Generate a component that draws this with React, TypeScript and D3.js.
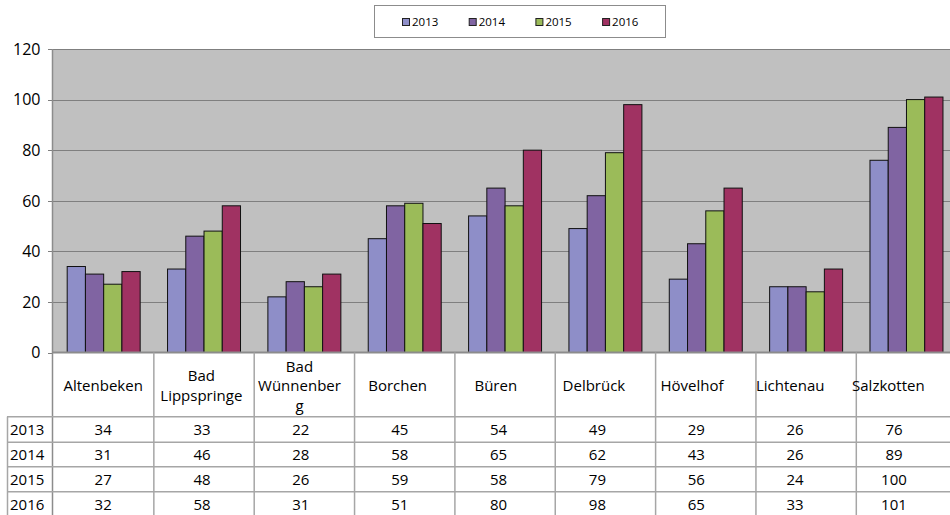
import React from "react";
import * as d3 from "d3";

const categories = ["Altenbeken", "Bad Lippspringe", "Bad Wünnenberg", "Borchen", "Büren", "Delbrück", "Hövelhof", "Lichtenau", "Salzkotten"];
const categoryLines = [["Altenbeken"], ["Bad", "Lippspringe"], ["Bad", "Wünnenber", "g"], ["Borchen"], ["Büren"], ["Delbrück"], ["Hövelhof"], ["Lichtenau"], ["Salzkotten"]];
const years = ["2013", "2014", "2015", "2016"];
const v2013 = [34, 33, 22, 45, 54, 49, 29, 26, 76];
const v2014 = [31, 46, 28, 58, 65, 62, 43, 26, 89];
const v2015 = [27, 48, 26, 59, 58, 79, 56, 24, 100];
const v2016 = [32, 58, 31, 51, 80, 98, 65, 33, 101];
const series = [v2013, v2014, v2015, v2016];
const colors = ["#8e8ec8", "#8064a2", "#9bbb59", "#a03262"];
const yTicks = [0, 20, 40, 60, 80, 100, 120];

const FONT = "'Open Sans', 'Noto Sans', sans-serif";

export default function App() {
  const left = 53;
  const plotRight = 53 + 9 * 100.35;
  const yTop = 49;
  const yBottom = 352.5;
  const x0 = d3.scaleBand<string>().domain(categories).range([left, plotRight]).paddingInner(0).paddingOuter(0);
  const x1 = d3.scaleBand<string>().domain(years).range([0, x0.bandwidth()]).paddingInner(0).paddingOuter(0.75);
  const y = d3.scaleLinear().domain([0, 120]).range([yBottom, yTop]);

  const headerTop = yBottom;
  const rowTops = [416.7, 442.3, 466.8, 491.7];
  const rowH = 25;
  const tableLeft = 7;
  const lineColor = "#a6a6a6";

  const legendX = 402;
  const legendStep = 66.7;

  return (
    <svg width={950} height={515} style={{ position: "absolute", left: 0, top: 0, background: "#fff" }} fontFamily={FONT}>
      {/* legend */}
      <rect x={374.5} y={5.5} width={291} height={32} fill="#fff" stroke="#8c8c8c" strokeWidth={1} />
      {years.map((yr, i) => (
        <g key={yr}>
          <rect x={legendX + i * legendStep + 0.5} y={18.5} width={7} height={7} fill={colors[i]} stroke="#222" strokeWidth={1} />
          <text x={legendX + i * legendStep + 10} y={26.3} fontSize={11.5} fill="#000">{yr}</text>
        </g>
      ))}

      {/* plot area */}
      <rect x={left} y={yTop} width={plotRight - left} height={yBottom - yTop} fill="#c0c0c0" />
      {yTicks.filter((t) => t > 0).map((t) => (
        <line key={t} x1={left} x2={plotRight} y1={Math.round(y(t)) + 0.5} y2={Math.round(y(t)) + 0.5} stroke="#7f7f7f" strokeWidth={1} />
      ))}
      {yTicks.map((t) => (
        <g key={"t" + t}>
          <line x1={48} x2={left} y1={Math.round(y(t)) + 0.5} y2={Math.round(y(t)) + 0.5} stroke="#7f7f7f" />
          <text x={40.5} y={y(t)} dy="0.36em" textAnchor="end" fontSize={16} fill="#000">{t}</text>
        </g>
      ))}

      {/* bars */}
      {categories.map((c, ci) => (
        <g key={c} transform={`translate(${x0(c)},0)`}>
          {years.map((yr, si) => {
            const val = series[si][ci];
            return (
              <rect key={yr} x={(x1(yr) as number) + 0.5} y={y(val)} width={x1.bandwidth()} height={yBottom - y(val)} fill={colors[si]} stroke="#111" strokeWidth={1} />
            );
          })}
        </g>
      ))}

      {/* axis lines */}
      <line x1={left - 0.5} x2={left - 0.5} y1={yTop} y2={515} stroke={"#8c8c8c"} strokeWidth={1.5} />
      <line x1={left} x2={plotRight} y1={yBottom} y2={yBottom} stroke="#8c8c8c" strokeWidth={2} />

      {/* table grid */}
      {categories.map((c, ci) => (
        <line key={"v" + c} x1={(x0(c) as number) + x0.bandwidth() + 0.5} x2={(x0(c) as number) + x0.bandwidth() + 0.5} y1={yBottom} y2={515} stroke={lineColor} strokeWidth={1.5} />
      ))}
      <line x1={tableLeft + 0.5} x2={tableLeft + 0.5} y1={rowTops[0]} y2={515} stroke={lineColor} strokeWidth={1.5} />
      {rowTops.map((r, i) => (
        <line key={"h" + i} x1={tableLeft} x2={950} y1={r} y2={r} stroke={lineColor} strokeWidth={1.5} />
      ))}

      {/* header labels */}
      {categories.map((c, ci) => {
        const cx = (x0(c) as number) + x0.bandwidth() / 2 - ci * 2.2;
        const lines = categoryLines[ci];
        const lh = 19.5;
        const mid = (headerTop + rowTops[0]) / 2 + 1;
        const start = mid - ((lines.length - 1) * lh) / 2;
        return (
          <text key={"hl" + c} textAnchor="middle" fontSize={15} fill="#000">
            {lines.map((ln, li) => (
              <tspan key={li} x={cx} y={start + li * lh} dy="0.36em">{ln}</tspan>
            ))}
          </text>
        );
      })}

      {/* rows */}
      {years.map((yr, si) => (
        <g key={"row" + yr}>
          <text x={10} y={rowTops[si] + rowH / 2} dy="0.36em" fontSize={15} fill="#000">{yr}</text>
          {categories.map((c, ci) => (
            <text key={c} x={(x0(c) as number) + x0.bandwidth() / 2 - ci * 1.5} y={rowTops[si] + rowH / 2} dy="0.36em" textAnchor="middle" fontSize={15} fill="#000">
              {series[si][ci]}
            </text>
          ))}
        </g>
      ))}
    </svg>
  );
}
